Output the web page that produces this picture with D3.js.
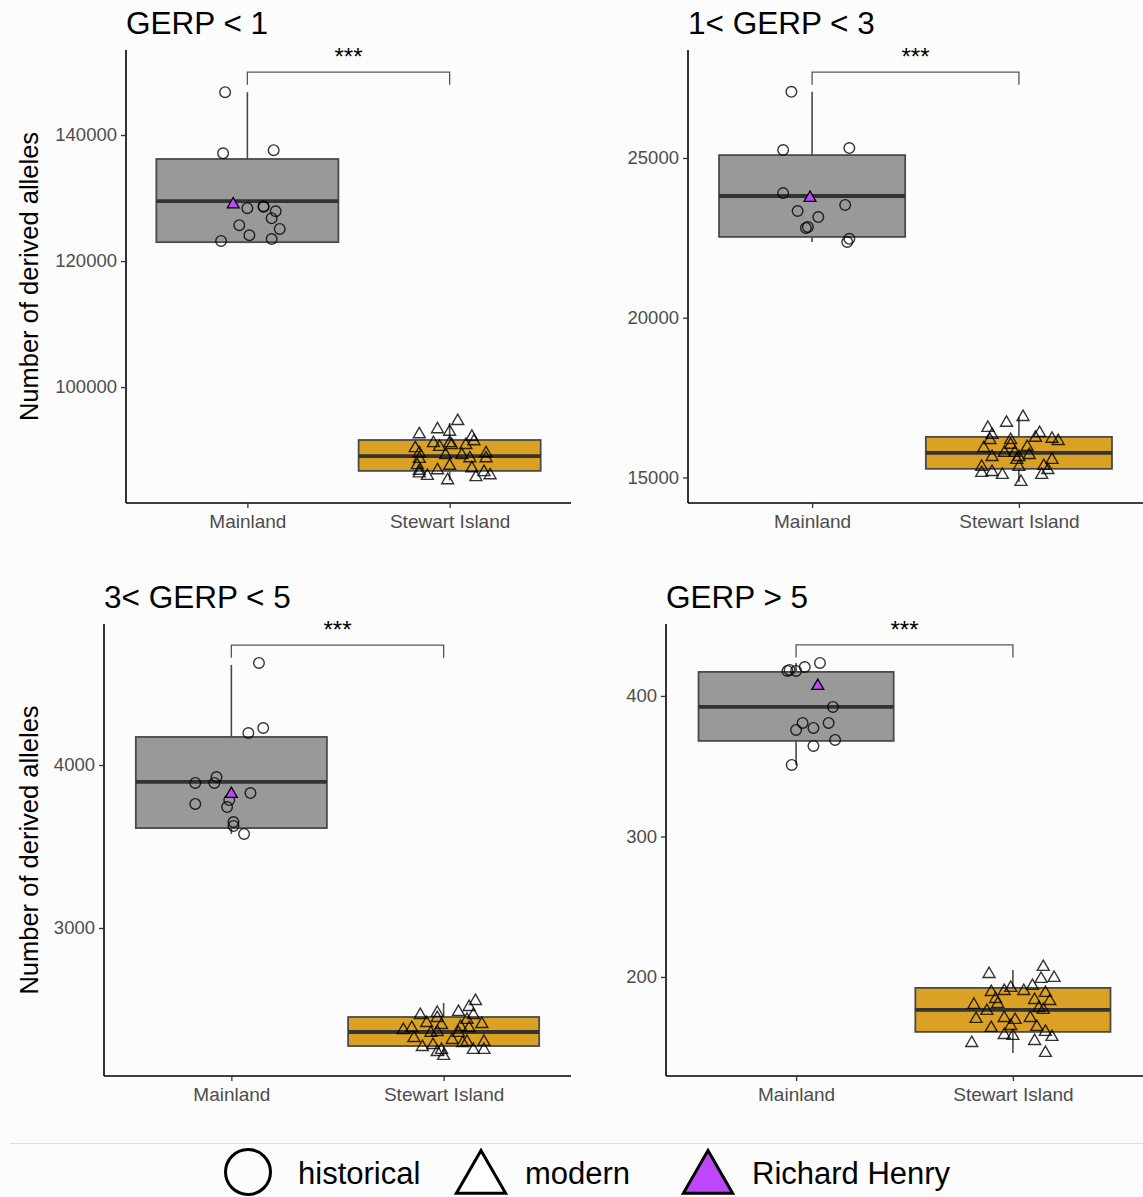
<!DOCTYPE html>
<html>
<head>
<meta charset="utf-8">
<script src="https://cdn.jsdelivr.net/npm/d3@7"></script>
<style>
  html, body { margin: 0; padding: 0; background: #fcfcfc; }
  svg { display: block; font-family: "Liberation Sans", Arial, Helvetica, sans-serif; }
</style>
</head>
<body>
<script>
const panelTitles = ["GERP < 1", "1< GERP < 3", "3< GERP < 5", "GERP > 5"]
const categories = ["Mainland", "Stewart Island"]
const yTicks = [[100000, 120000, 140000], [15000, 20000, 25000], [3000, 4000], [200, 300, 400]]
const yDomains = [[81600, 153500], [14200, 28380], [2092, 4865], [129.5, 451.2]]

// box stats: [lower whisker, q1, median, q3, upper whisker]
const mainlandBox = [
  [123000, 123000, 129500, 136200, 146800],
  [22370, 22530, 23810, 25090, 27070],
  [3577, 3613, 3896, 4172, 4614],
  [350.9, 368, 392.2, 417.1, 423.5]]
const stewartBox = [
  [85200, 86700, 89050, 91600, 94300],
  [14860, 15270, 15770, 16270, 16890],
  [2215, 2276, 2362, 2454, 2540],
  [145.9, 160.9, 176.5, 192.2, 205]]

const bracketY = [150000, 27690, 4736, 436.3]
const signif = ["***", "***", "***", "***"]

// historical samples (Mainland), jitter in category steps
const historical = [
  [146800, 137100, 137600, 128400, 128700, 128600, 127900, 126800, 125700, 124100, 125100, 123200, 123500],
  [27070, 25250, 25310, 23900, 23340, 23150, 22840, 22810, 23530, 22370, 22470],
  [4626, 4227, 4196, 3926, 3890, 3890, 3828, 3761, 3742, 3650, 3626, 3577, 3785],
  [417.8, 418.5, 417.8, 420.6, 423.5, 392.2, 380.8, 375.8, 377.2, 380.8, 368.7, 364.4, 350.9]]
const historicalJitter = [
  [-0.11, -0.12, 0.13, 0.00, 0.08, 0.08, 0.14, 0.12, -0.04, 0.01, 0.16, -0.13, 0.12],
  [-0.10, -0.14, 0.18, -0.14, -0.07, 0.03, -0.02, -0.03, 0.16, 0.17, 0.18],
  [0.13, 0.15, 0.08, -0.07, -0.17, -0.08, 0.09, -0.17, -0.02, 0.01, 0.01, 0.06, -0.01],
  [-0.04, -0.03, 0.00, 0.04, 0.11, 0.17, 0.03, 0.00, 0.08, 0.15, 0.18, 0.08, -0.02]]

// modern samples (Stewart Island)
const modern = [
  [94600, 92500, 93300, 92900, 92100, 91400, 91100, 91100, 90800, 90800, 90300, 90500, 89500, 89200, 89200,
   89500, 88700, 88600, 88700, 87600, 86700, 86800, 87500, 87100, 85900, 86300, 85700, 86500, 86000, 85200],
  [16890, 16710, 16550, 16390, 16210, 16140, 16330, 16170, 16020, 15950, 15920, 15770, 15770, 15700, 15640,
   15550, 15640, 15550, 15330, 15330, 15360, 15140, 15170, 15080, 15080, 15230, 14860, 16240, 16170],
  [2552, 2515, 2485, 2479, 2466, 2466, 2448, 2436, 2417, 2411, 2405, 2393, 2374, 2386, 2386,
   2362, 2356, 2356, 2325, 2313, 2301, 2301, 2270, 2282, 2252, 2252, 2252, 2215, 2239, 2294],
  [207.1, 202.1, 199.3, 198.6, 193.6, 192.2, 190.0, 190.0, 189.3, 188.6, 184.3, 183.6, 182.9, 180.1, 180.8, 177.9,
   176.5, 175.8, 170.1, 170.8, 169.4, 170.8, 164.4, 163.7, 165.1, 160.9, 158.7, 158.0, 157.3, 154.4, 153.0, 145.9]]
const modernJitter = [
  [0.04, -0.15, -0.06, 0.00, 0.11, 0.12, -0.08, 0.00, 0.01, 0.08, -0.17, -0.05, -0.15, -0.02, 0.06,
   0.18, 0.18, -0.15, 0.10, -0.16, -0.15, -0.06, 0.00, 0.11, -0.11, -0.15, 0.13, 0.17, 0.20, -0.01],
  [0.02, -0.06, -0.15, 0.10, 0.16, 0.19, -0.13, -0.14, -0.04, 0.04, -0.17, -0.02, -0.07, 0.05, 0.00,
   -0.01, -0.13, 0.16, -0.18, 0.00, 0.12, -0.18, -0.13, -0.08, 0.11, 0.14, 0.01, 0.08, -0.04],
  [0.15, 0.12, 0.07, -0.03, -0.11, 0.14, -0.03, 0.11, -0.08, 0.18, -0.01, 0.08, -0.19, -0.15, 0.12,
   -0.03, -0.06, 0.07, -0.14, 0.04, 0.11, 0.19, -0.10, -0.05, -0.01, 0.14, 0.19, 0.00, -0.03, 0.09],
  [0.14, -0.11, 0.19, 0.13, 0.09, -0.01, -0.04, 0.05, -0.10, 0.15, -0.08, 0.10, 0.17, -0.18, -0.07, 0.12,
   0.14, -0.12, -0.17, -0.04, 0.01, 0.08, 0.11, -0.10, -0.01, 0.15, -0.04, 0.00, 0.18, 0.10, -0.19, 0.15]]

// Richard Henry (Mainland, modern)
const richardHenry = [129000, 23750, 3822, 407.1]
const richardHenryJitter = [-0.07, -0.01, 0.00, 0.10]

const legendLabels = ["historical", "modern", "Richard Henry"]
const boxColors = ["#999999", "#daa124"]
const rhColor = "#bd48f9"

const W = 1143, H = 1197
const frames = [
  { x0: 126, x1: 571, y0: 50, y1: 503 },
  { x0: 688, x1: 1143, y0: 50, y1: 503 },
  { x0: 104, x1: 571, y0: 624, y1: 1076 },
  { x0: 666, x1: 1143, y0: 624, y1: 1076 }]

const svg = d3.select('body').append('svg')
  .attr('width', W)
  .attr('height', H)

svg.append('rect').attr('width', W).attr('height', H).attr('fill', '#fcfcfc')

const triangle = d3.symbol().type(d3.symbolTriangle).size(62)

frames.forEach((f, i) => drawPanel(i, f))

function drawPanel(i, f) {
  const x = d3.scalePoint().domain(categories).range([f.x0, f.x1]).padding(0.6)
  const y = d3.scaleLinear().domain(yDomains[i]).range([f.y1, f.y0])
  const step = x.step()
  const bw = step * 0.9
  const g = svg.append('g')

  // title
  g.append('text')
    .attr('x', f.x0)
    .attr('y', f.y0 - 16)
    .attr('font-size', 31.5)
    .attr('fill', '#000')
    .text(panelTitles[i])

  // axes
  const yAxis = d3.axisLeft(y).tickValues(yTicks[i]).tickSize(5).tickPadding(4).tickFormat(d3.format('d'))
  const xAxis = d3.axisBottom(x).tickSize(5).tickPadding(7)
  const ya = g.append('g').attr('transform', `translate(${f.x0},0)`).call(yAxis)
  const xa = g.append('g').attr('transform', `translate(0,${f.y1})`).call(xAxis)
  ya.select('.domain').attr('d', `M0,${f.y0}V${f.y1}`)
  xa.select('.domain').attr('d', `M${f.x0},0H${f.x1}`)
  ;[ya, xa].forEach(a => {
    a.select('.domain').attr('stroke', '#000').attr('stroke-width', 1.6)
    a.selectAll('.tick line').attr('stroke', '#333').attr('stroke-width', 1.3)
    a.selectAll('.tick text').attr('fill', '#4d4d4d').attr('font-size', 19)
      .attr('font-family', '"Liberation Sans", Arial, sans-serif')
  })
  ya.selectAll('.tick text').attr('font-size', 18.5)

  if (i % 2 == 0) {
    g.append('text')
      .attr('transform', `translate(${f.x0 - (i == 0 ? 88 : 66)},${(f.y0 + f.y1) / 2}) rotate(-90)`)
      .attr('text-anchor', 'middle')
      .attr('font-size', 25.5)
      .text('Number of derived alleles')
  }

  // boxplots
  const boxes = [mainlandBox[i], stewartBox[i]]
  boxes.forEach((b, k) => {
    const cx = x(categories[k])
    g.append('line').attr('x1', cx).attr('x2', cx).attr('y1', y(b[3])).attr('y2', y(b[4]))
      .attr('stroke', '#4a4a4a').attr('stroke-width', 1.6)
    g.append('line').attr('x1', cx).attr('x2', cx).attr('y1', y(b[1])).attr('y2', y(b[0]))
      .attr('stroke', '#4a4a4a').attr('stroke-width', 1.6)
    g.append('rect')
      .attr('x', cx - bw / 2)
      .attr('y', y(b[3]))
      .attr('width', bw)
      .attr('height', y(b[1]) - y(b[3]))
      .attr('fill', boxColors[k])
      .attr('stroke', '#4a4a4a')
      .attr('stroke-width', 1.8)
    g.append('line').attr('x1', cx - bw / 2).attr('x2', cx + bw / 2).attr('y1', y(b[2])).attr('y2', y(b[2]))
      .attr('stroke', '#333').attr('stroke-width', 3.8)
  })

  // jittered points
  const pts = g.append('g').attr('fill', 'none').attr('stroke', '#000').attr('stroke-opacity', 0.8).attr('stroke-width', 1.4)
  pts.selectAll('circle')
    .data(historical[i])
    .enter()
    .append('circle')
    .attr('cx', (d, j) => x('Mainland') + historicalJitter[i][j] * step)
    .attr('cy', d => y(d))
    .attr('r', 5.3)
  pts.selectAll('path')
    .data(modern[i])
    .enter()
    .append('path')
    .attr('d', triangle)
    .attr('transform', (d, j) => `translate(${x('Stewart Island') + modernJitter[i][j] * step},${y(d)})`)

  g.append('path')
    .attr('d', triangle)
    .attr('transform', `translate(${x('Mainland') + richardHenryJitter[i] * step},${y(richardHenry[i])})`)
    .attr('fill', rhColor)
    .attr('stroke', '#000')
    .attr('stroke-width', 1.3)

  // significance bracket
  const by = y(bracketY[i])
  const tip = (f.y1 - f.y0) * 0.028
  const xa0 = x('Mainland'), xa1 = x('Stewart Island')
  g.append('path')
    .attr('d', `M${xa0},${by + tip}V${by}H${xa1}V${by + tip}`)
    .attr('fill', 'none')
    .attr('stroke', '#555')
    .attr('stroke-width', 1.3)
  g.append('text')
    .attr('x', (xa0 + xa1) / 2)
    .attr('y', by - 7)
    .attr('text-anchor', 'middle')
    .attr('font-size', 24)
    .text(signif[i])
}

// legend
svg.append('line')
  .attr('x1', 10).attr('x2', W).attr('y1', 1143.5).attr('y2', 1143.5)
  .attr('stroke', '#dcdcdc').attr('stroke-width', 1)

const legend = svg.append('g')
const bigTri = d3.symbol().type(d3.symbolTriangle).size(1050)
const legendX = [248, 481, 708]
legend.append('circle').attr('cx', legendX[0]).attr('cy', 1172).attr('r', 22.5)
  .attr('fill', 'none').attr('stroke', '#000').attr('stroke-width', 3)
legend.append('path').attr('d', bigTri).attr('transform', `translate(${legendX[1]},1179)`)
  .attr('fill', '#fff').attr('stroke', '#000').attr('stroke-width', 3)
legend.append('path').attr('d', bigTri).attr('transform', `translate(${legendX[2]},1179)`)
  .attr('fill', rhColor).attr('stroke', '#000').attr('stroke-width', 3)
legendLabels.forEach((t, k) => {
  legend.append('text')
    .attr('x', legendX[k] + (k == 0 ? 50 : 44))
    .attr('y', 1184)
    .attr('font-size', 31)
    .text(t)
})
</script>
</body>
</html>
